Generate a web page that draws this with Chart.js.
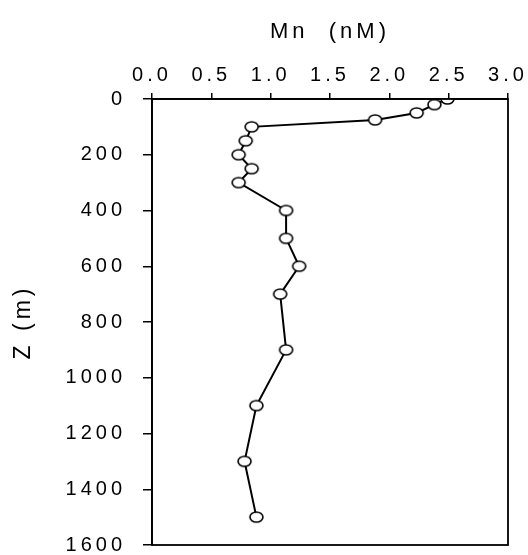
<!DOCTYPE html>
<html>
<head>
<meta charset="utf-8">
<script src="https://cdn.jsdelivr.net/npm/chart.js@4.4.1/dist/chart.umd.min.js"></script>
<style>
  html, body { margin: 0; padding: 0; background: #fff; }
  #wrap { width: 528px; height: 555px; }
</style>
</head>
<body>
<div id="wrap"><canvas id="graph"></canvas></div>
<script>
// Mn profile: concentration (nM) against depth Z (m)
const depth = [0, 20, 50, 75, 100, 150, 200, 250, 300, 400, 500, 600, 700, 900, 1100, 1300, 1500];
const mn = [2.49, 2.38, 2.23, 1.88, 0.84, 0.79, 0.73, 0.84, 0.73, 1.13, 1.13, 1.24, 1.08, 1.13, 0.88, 0.78, 0.88];

const mnTicks = [0, 0.5, 1.0, 1.5, 2.0, 2.5, 3.0];
const depthTicks = [0, 200, 400, 600, 800, 1000, 1200, 1400, 1600];

const FONT = "'Liberation Sans', Arial, sans-serif";
const SPACING = '4px';
const INK = '#000';

// open ellipse marker
function ellipseMarker() {
  const c = document.createElement('canvas');
  c.width = 17; c.height = 14;
  const g = c.getContext('2d');
  g.beginPath();
  g.ellipse(8.5, 7, 6.5, 5, 0, 0, Math.PI * 2);
  g.fillStyle = '#fff';
  g.fill();
  g.lineWidth = 1.6;
  g.strokeStyle = INK;
  g.stroke();
  return c;
}

// spaced-out lettering like the old plotting package
const letterSpacing = {
  id: 'letterSpacing',
  beforeLayout(chart) { chart.ctx.letterSpacing = SPACING; },
  beforeDraw(chart) { chart.ctx.letterSpacing = SPACING; }
};

// closed box around the plot area
const frame = {
  id: 'frame',
  afterDraw(chart) {
    const { ctx, chartArea: a } = chart;
    ctx.save();
    ctx.strokeStyle = INK;
    ctx.lineWidth = 1.8;
    ctx.strokeRect(a.left, a.top, a.right - a.left, a.bottom - a.top);
    ctx.restore();
  }
};

// fixed axis bands, outer margins come from layout.padding only
const fixBand = (w, h) => s => {
  if (w) s.width = w;
  if (h) s.height = h;
  s.paddingTop = 0; s.paddingBottom = 0;
  s.paddingLeft = 0; s.paddingRight = 0;
};

const points = depth.map((z, i) => ({ x: mn[i], y: z }));

new Chart(document.getElementById('graph'), {
  type: 'scatter',
  data: {
    datasets: [{
      data: points,
      showLine: true,
      borderColor: INK,
      borderWidth: 2,
      pointStyle: ellipseMarker(),
      pointRadius: 6,
      tension: 0
    }]
  },
  options: {
    responsive: true,
    maintainAspectRatio: false,
    animation: false,
    layout: { padding: { left: 6, right: 20, top: 18, bottom: 10 } },
    plugins: { legend: { display: false }, tooltip: { enabled: false } },
    scales: {
      x: {
        position: 'top',
        min: 0, max: 3,
        afterBuildTicks: s => { s.ticks = mnTicks.map(v => ({ value: v })); },
        afterFit: fixBand(0, 81),
        ticks: {
          color: INK,
          padding: 6,
          maxRotation: 0,
          font: { family: FONT, size: 20 },
          callback: v => Number(v).toFixed(1)
        },
        grid: { drawOnChartArea: false, drawTicks: true, tickLength: 6, color: INK, lineWidth: 1.5 },
        border: { color: INK, width: 1.8 },
        title: {
          display: true,
          text: 'Mn  (nM)',
          color: INK,
          font: { family: FONT, size: 22 },
          padding: { top: 1, bottom: 7 }
        }
      },
      y: {
        reverse: true,
        min: 0, max: 1600,
        afterBuildTicks: s => { s.ticks = depthTicks.map(v => ({ value: v })); },
        afterFit: fixBand(146, 0),
        ticks: {
          color: INK,
          padding: 17,
          font: { family: FONT, size: 20 },
          callback: v => String(v)
        },
        grid: { drawOnChartArea: false, drawTicks: true, tickLength: 9, color: INK, lineWidth: 1.5 },
        border: { color: INK, width: 1.8 },
        title: {
          display: true,
          text: 'Z (m)',
          color: INK,
          font: { family: FONT, size: 23 },
          padding: { top: 4, bottom: 14 }
        }
      }
    }
  },
  plugins: [letterSpacing, frame]
});
</script>
</body>
</html>
